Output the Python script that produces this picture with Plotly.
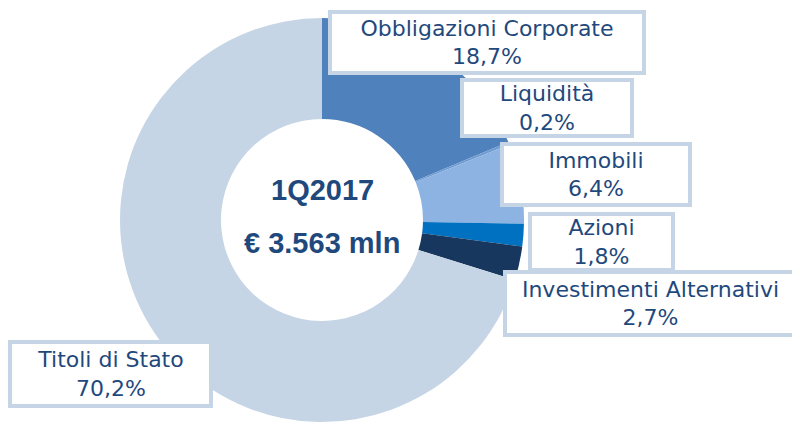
import plotly.graph_objects as go

labels = ["Obbligazioni Corporate", "Liquidità", "Immobili", "Azioni",
          "Investimenti Alternativi", "Titoli di Stato"]
values = [18.7, 0.2, 6.4, 1.8, 2.7, 70.2]
pct_text = ["18,7%", "0,2%", "6,4%", "1,8%", "2,7%", "70,2%"]
colors = ["#4f81bd", "#6f9bd0", "#8db3e2", "#0070c0", "#17375e", "#c5d5e5"]

center_title = "1Q2017"
center_total = "€ 3.563 mln"

W, H = 800, 428
TEXT = "#1f497d"
BORDER = "#c5d5e5"
OFF = 8  # page body margin

# pie centre (px on screen) and outer radius
PCX, PCY, R = 322 - OFF, 220 - OFF, 202

fig = go.Figure(
    go.Pie(
        labels=labels,
        values=values,
        hole=0.5,
        sort=False,
        direction="clockwise",
        rotation=0,
        marker=dict(colors=colors, line=dict(width=0)),
        textinfo="none",
        hoverinfo="label+percent",
        domain=dict(x=[(PCX - R) / W, (PCX + R) / W],
                    y=[1 - (PCY + R) / H, 1 - (PCY - R) / H]),
        showlegend=False,
    )
)

# label boxes: (left, top, right, bottom) in screen px
boxes = [
    (328, 10, 646, 75),
    (460, 78, 634, 138),
    (500, 142, 692, 207),
    (528, 212, 675, 272),
    (503, 270, 798, 337),
    (8, 340, 213, 408),
]

for (x0, y0, x1, y1), lab, pct in zip(boxes, labels, pct_text):
    fig.add_annotation(
        x=((x0 + x1) / 2 - OFF) / W, y=1 - ((y0 + y1) / 2 - OFF) / H,
        xref="paper", yref="paper",
        xanchor="center", yanchor="middle",
        text=f"{lab}<br>{pct}", showarrow=False,
        width=x1 - x0 - 8, height=y1 - y0 - 8,
        bgcolor="white", bordercolor=BORDER, borderwidth=4, borderpad=0,
        font=dict(family="DejaVu Sans", size=22, color=TEXT),
    )

fig.add_annotation(
    x=(322 - OFF) / W, y=1 - (190 - OFF) / H, xref="paper", yref="paper",
    text=f"<b>{center_title}</b>", showarrow=False,
    font=dict(family="Liberation Sans", size=29, color=TEXT),
)
fig.add_annotation(
    x=(322 - OFF) / W, y=1 - (243 - OFF) / H, xref="paper", yref="paper",
    text=f"<b>{center_total}</b>", showarrow=False,
    font=dict(family="Liberation Sans", size=29, color=TEXT),
)

fig.update_layout(
    width=W, height=H,
    margin=dict(l=0, r=0, t=0, b=0),
    paper_bgcolor="white",
    plot_bgcolor="white",
)

fig.write_html("out.html")
